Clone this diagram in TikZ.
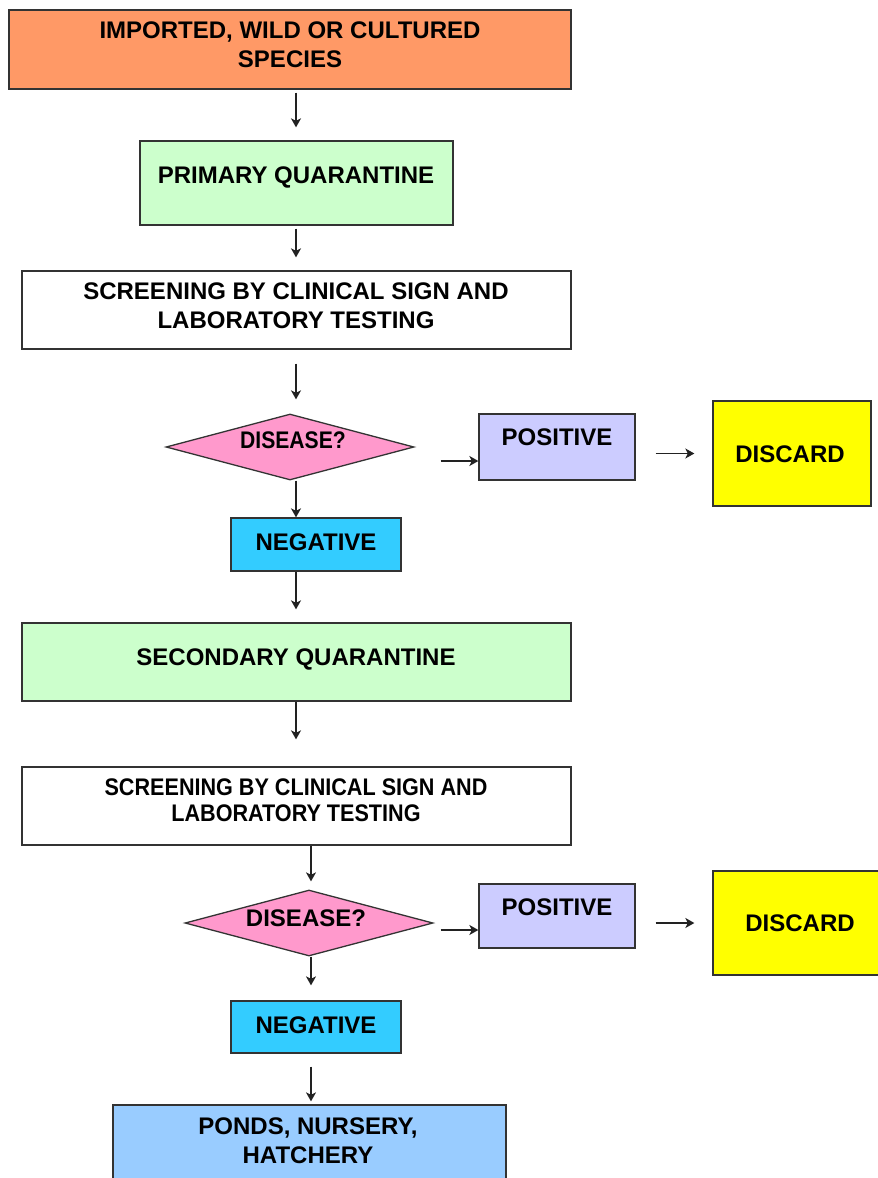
\documentclass[tikz,border=0pt]{standalone}
\usepackage{fontspec}
\setmainfont{Liberation Sans}
\newfontfamily\narrowfont[FakeStretch=0.9]{Liberation Sans}
\newfontfamily\tightfont[FakeStretch=0.88]{Liberation Sans}
\usetikzlibrary{arrows.meta,shapes.geometric}
\definecolor{cOrange}{HTML}{FF9966}
\definecolor{cGreen}{HTML}{CCFFCC}
\definecolor{cPink}{HTML}{FF99CC}
\definecolor{cLav}{HTML}{CCCCFF}
\definecolor{cYellow}{HTML}{FFFF00}
\definecolor{cCyan}{HTML}{33CCFF}
\definecolor{cBlue}{HTML}{99CCFF}
\definecolor{cEdge}{HTML}{333333}
\definecolor{cLine}{HTML}{222222}
\tikzset{
  box/.style={draw=cEdge, line width=1.3pt, rectangle, inner sep=0pt},
  decision/.style={draw=cEdge, line width=1.3pt, diamond, inner sep=0pt, fill=cPink},
  txt/.style={font=\bfseries\fontsize{24}{29}\selectfont, align=center, inner sep=0pt},
  arr/.style={draw=cLine, line width=1.4pt, -{Stealth[length=9pt,width=10pt,inset=2.5pt]}},
}
\begin{document}
\begin{tikzpicture}[x=1pt,y=-1pt]
\clip (0,0) rectangle (878,1178);
\fill[white] (0,0) rectangle (878,1178);

% boxes, given by their corners
\node[box, fill=cOrange, minimum width=562pt, minimum height=79pt] (src) at (290,49.5) {};
\node[box, fill=cGreen, minimum width=313pt, minimum height=84pt] (prim) at (296.5,183) {};
\node[box, fill=white, minimum width=549pt, minimum height=78pt] (scr1) at (296.5,310) {};
\node[decision, minimum width=248pt, minimum height=66pt, aspect=3.76] (dis1) at (290,447) {};
\node[box, fill=cLav, minimum width=156pt, minimum height=66pt] (pos1) at (557,447) {};
\node[box, fill=cYellow, minimum width=158pt, minimum height=105pt] (disc1) at (792,453.5) {};
\node[box, fill=cCyan, minimum width=170pt, minimum height=53pt] (neg1) at (316,544.5) {};
\node[box, fill=cGreen, minimum width=549pt, minimum height=78pt] (sec) at (296.5,662) {};
\node[box, fill=white, minimum width=549pt, minimum height=78pt] (scr2) at (296.5,806) {};
\node[decision, minimum width=248pt, minimum height=66pt, aspect=3.76] (dis2) at (309,923) {};
\node[box, fill=cLav, minimum width=156pt, minimum height=64pt] (pos2) at (557,916) {};
\node[box, fill=cYellow, minimum width=180pt, minimum height=104pt] (disc2) at (803,923) {};
\node[box, fill=cCyan, minimum width=170pt, minimum height=52pt] (neg2) at (316,1027) {};
\node[box, fill=cBlue, minimum width=393pt, minimum height=100pt] (ponds) at (309.5,1155) {};

% texts
\node[txt] (srcT) at (290,45) {IMPORTED, WILD OR CULTURED\\SPECIES};
\node[txt] (primT) at (296,177) {PRIMARY QUARANTINE};
\node[txt] (scr1T) at (296,306) {SCREENING BY CLINICAL SIGN AND\\LABORATORY TESTING};
\node[txt, font=\tightfont\bfseries\fontsize{24}{29}\selectfont] (dis1T) at (293,440) {DISEASE?};
\node[txt] (pos1T) at (557,437) {POSITIVE};
\node[txt] (disc1T) at (790,454) {DISCARD};
\node[txt] (neg1T) at (316,542) {NEGATIVE};
\node[txt] (secT) at (296,659) {SECONDARY QUARANTINE};
\node[txt, font=\narrowfont\bfseries\fontsize{24}{26}\selectfont] (scr2T) at (296,800) {SCREENING BY CLINICAL SIGN AND\\LABORATORY TESTING};
\node[txt] (dis2T) at (306,918) {DISEASE?};
\node[txt] (pos2T) at (557,907) {POSITIVE};
\node[txt] (disc2T) at (800,923) {DISCARD};
\node[txt] (neg2T) at (316,1025) {NEGATIVE};
\node[txt] (pondsT) at (308,1140.5) {PONDS, NURSERY,\\HATCHERY};

% lines of the main flow
\coordinate (upper) at (296,0);
\coordinate (lower) at (311,0);

\draw[arr, shorten <=3pt, shorten >=13pt] (src.south -| upper) -- (prim.north -| upper);
\draw[arr, shorten <=3pt, shorten >=13pt] (prim.south -| upper) -- (scr1.north -| upper);
\draw[arr, shorten <=14pt, shorten >=14pt] (scr1.south -| upper) -- (dis1.north -| upper);
\draw[arr] (dis1.south -| upper) -- (neg1.north -| upper);
\draw[arr, shorten >=13pt] (neg1.south -| upper) -- (sec.north -| upper);
\draw[arr, shorten >=27pt] (sec.south -| upper) -- (scr2.north -| upper);
\draw[arr, shorten >=8pt] (scr2.south -| lower) -- (dis2.north -| lower);
\draw[arr, shorten >=15pt] (dis2.south -| lower) -- (neg2.north -| lower);
\draw[arr, shorten <=13pt, shorten >=3pt] (neg2.south -| lower) -- (ponds.north -| lower);

% side branches
\draw[arr, shorten <=26pt] ([yshift=-14pt]dis1.east) -- ([yshift=-14pt]pos1.west);
\draw[arr, shorten <=20pt, shorten >=18pt] (pos1.east |- disc1.west) -- (disc1.west);
\draw[arr, shorten <=7pt] ([yshift=-7pt]dis2.east) -- ([yshift=-14pt]pos2.west);
\draw[arr, shorten <=20pt, shorten >=18pt] (pos2.east |- disc2.west) -- (disc2.west);
\end{tikzpicture}
\end{document}
